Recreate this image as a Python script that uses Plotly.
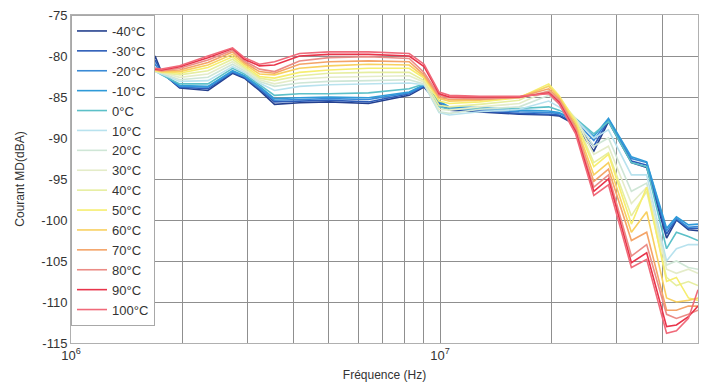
import plotly.graph_objects as go

# Frequency points (Hz)
freq_hz = [1.00e6, 1.64e6, 1.69e6, 1.76e6, 1.97e6, 2.35e6, 2.74e6, 2.95e6, 3.24e6, 3.56e6,
           4.16e6, 5.00e6, 6.40e6, 8.25e6, 9.05e6, 9.94e6, 1.06e7, 1.28e7, 1.64e7, 1.97e7,
           2.10e7, 2.33e7, 2.61e7, 2.86e7, 3.30e7, 3.63e7, 4.11e7, 4.37e7, 4.71e7, 5.00e7]

temps = ["-40°C", "-30°C", "-20°C", "-10°C", "0°C", "10°C", "20°C", "30°C",
         "40°C", "50°C", "60°C", "70°C", "80°C", "90°C", "100°C"]

t_m40 = [-82.3, -82.5, -80.0, -82.0, -83.9, -84.2, -82.1, -82.7, -84.2, -85.9,
         -85.7, -85.6, -85.8, -84.8, -83.8, -85.9, -86.6, -86.8, -87.1, -87.2,
         -87.3, -88.4, -91.6, -88.0, -93.0, -93.6, -102.2, -100.0, -101.2, -101.3]
t_m30 = [-82.2, -82.4, -80.5, -82.0, -83.8, -84.0, -82.0, -82.6, -84.0, -85.6,
         -85.5, -85.4, -85.6, -84.6, -83.7, -85.8, -86.5, -86.7, -87.0, -87.1,
         -87.2, -88.2, -91.0, -87.8, -92.8, -93.3, -101.7, -99.9, -101.0, -101.0]
t_m20 = [-82.1, -82.3, -81.0, -82.1, -83.7, -83.8, -81.9, -82.5, -83.9, -85.4,
         -85.3, -85.2, -85.3, -84.5, -83.6, -85.6, -86.3, -86.5, -86.8, -86.9,
         -87.0, -88.0, -90.3, -87.7, -92.5, -93.0, -101.3, -99.8, -100.9, -100.8]
t_m10 = [-82.0, -82.2, -81.5, -82.2, -83.6, -83.7, -81.8, -82.4, -83.7, -85.2,
         -85.1, -85.0, -85.1, -84.4, -83.5, -85.5, -86.2, -86.3, -86.6, -86.7,
         -86.9, -87.8, -89.8, -87.6, -92.3, -92.9, -101.0, -99.6, -100.6, -100.5]
t_0 = [-82.0, -82.1, -81.8, -82.3, -83.4, -83.4, -81.5, -82.2, -83.5, -84.8,
       -84.6, -84.6, -84.5, -84.0, -83.4, -86.2, -86.5, -86.4, -86.4, -86.2,
       -86.6, -87.6, -89.5, -88.0, -93.0, -93.5, -103.5, -101.5, -102.0, -102.5]
t_10 = [-82.0, -82.0, -81.9, -82.2, -83.1, -83.0, -81.3, -82.0, -83.3, -84.2,
        -83.7, -83.5, -83.4, -83.3, -83.5, -86.9, -87.2, -86.8, -86.5, -85.5,
        -86.2, -87.7, -90.0, -89.0, -94.5, -94.5, -105.0, -103.5, -103.0, -103.0]
t_20 = [-81.9, -82.0, -81.9, -82.1, -82.9, -82.6, -81.0, -81.8, -83.1, -83.7,
        -83.3, -83.1, -83.0, -82.9, -83.4, -86.8, -87.0, -86.5, -86.2, -84.8,
        -85.8, -87.8, -91.0, -90.0, -96.5, -95.5, -105.5, -105.0, -105.8, -106.0]
t_30 = [-81.9, -81.9, -81.9, -82.0, -82.6, -82.2, -80.7, -81.6, -82.9, -83.4,
        -82.8, -82.6, -82.5, -82.4, -83.2, -86.5, -86.6, -86.2, -85.8, -84.2,
        -85.4, -87.6, -92.0, -91.0, -98.0, -96.0, -106.0, -106.5, -106.0, -106.5]
t_40 = [-81.8, -81.9, -81.8, -82.0, -82.3, -81.8, -80.4, -81.4, -82.7, -83.0,
        -82.4, -82.1, -82.0, -82.0, -83.0, -86.0, -86.2, -85.9, -85.4, -83.6,
        -85.0, -87.8, -93.0, -91.8, -99.5, -96.5, -107.0, -108.0, -107.5, -108.0]
t_50 = [-81.8, -81.8, -81.8, -81.9, -82.1, -81.4, -80.1, -81.2, -82.5, -82.7,
        -82.0, -81.7, -81.5, -81.5, -82.7, -85.5, -85.8, -85.6, -85.1, -83.4,
        -84.8, -88.0, -93.5, -92.0, -100.5, -96.0, -107.5, -107.0, -109.5, -109.8]
t_60 = [-81.7, -81.8, -81.7, -81.9, -81.9, -81.1, -79.8, -81.0, -82.2, -82.3,
        -81.5, -81.2, -81.0, -81.1, -82.5, -85.2, -85.5, -85.4, -85.0, -83.7,
        -85.0, -88.3, -94.5, -93.0, -101.5, -99.0, -109.5, -110.0, -109.8, -109.5]
t_70 = [-81.7, -81.7, -81.7, -81.8, -81.7, -80.8, -79.5, -80.8, -81.9, -82.1,
        -81.0, -80.7, -80.6, -80.7, -82.3, -85.0, -85.3, -85.3, -85.0, -84.0,
        -85.2, -88.6, -95.3, -93.8, -102.5, -101.5, -111.0, -111.0, -110.5, -110.5]
t_80 = [-81.6, -81.7, -81.6, -81.8, -81.5, -80.5, -79.3, -80.6, -81.6, -81.9,
        -80.6, -80.2, -80.1, -80.3, -82.0, -84.8, -85.1, -85.2, -85.1, -84.3,
        -85.4, -88.9, -96.0, -94.5, -104.4, -103.0, -111.5, -112.0, -111.5, -111.0]
t_90 = [-81.6, -81.6, -81.6, -81.7, -81.3, -80.2, -79.1, -80.4, -81.2, -81.1,
        -80.0, -79.8, -79.8, -80.0, -81.3, -84.6, -85.0, -85.0, -85.0, -84.5,
        -85.6, -89.2, -96.5, -95.0, -105.2, -104.0, -113.0, -112.8, -111.8, -110.5]
t_100 = [-81.5, -81.5, -81.5, -81.6, -81.2, -80.0, -79.0, -80.2, -81.0, -80.7,
         -79.7, -79.5, -79.5, -79.7, -81.0, -84.4, -84.8, -84.9, -84.9, -84.6,
         -85.8, -89.5, -97.0, -95.7, -105.8, -104.8, -113.8, -113.5, -112.0, -108.5]

series = [t_m40, t_m30, t_m20, t_m10, t_0, t_10, t_20, t_30,
          t_40, t_50, t_60, t_70, t_80, t_90, t_100]

colors = ["#24408e", "#2c5cb8", "#3a8ad6", "#2f9ad8", "#5cc0c8", "#b8e2ee",
          "#cfe6d6", "#e4ecc8", "#e6eea0", "#f6ee70", "#f8d060", "#f4a468",
          "#eb8c86", "#e8344a", "#f06a7a"]

# Axis ticks
x_tickvals = [1e6, 1e7]
x_ticktext = ["10<sup>6</sup>", "10<sup>7</sup>"]
x_minor_vals = [2e6, 3e6, 4e6, 5e6, 6e6, 7e6, 8e6, 9e6, 2e7, 3e7, 4e7, 5e7]
y_tickvals = [-115, -110, -105, -100, -95, -90, -85, -80, -75]
y_ticktext = ["-115", "-110", "-105", "-100", "-95", "-90", "-85", "-80", "-75"]

fig = go.Figure()
for name, ys, col in zip(temps, series, colors):
    fig.add_trace(go.Scatter(x=freq_hz, y=ys, mode="lines", name=name,
                             line=dict(color=col, width=1.6)))

fig.update_layout(
    width=709, height=385,
    margin=dict(l=71, r=11, t=15, b=42),
    paper_bgcolor="white", plot_bgcolor="white",
    font=dict(family="Liberation Sans, Arial, sans-serif", color="#333333"),
    showlegend=True,
    legend=dict(x=0, y=1, xanchor="left", yanchor="top",
                bgcolor="white", bordercolor="#a8a8a8", borderwidth=1,
                font=dict(size=13, color="#333333"),
                itemwidth=30, tracegroupgap=0),
)

fig.update_xaxes(
    type="log", range=[6, 7.69897], automargin=False,
    tickmode="array", tickvals=x_tickvals, ticktext=x_ticktext,
    showgrid=True, gridcolor="#8f8f8f", gridwidth=1,
    minor=dict(tickmode="array", tickvals=x_minor_vals, showgrid=True,
               gridcolor="#8f8f8f", gridwidth=1, ticks=""),
    showline=True, linecolor="#b0b0b0", mirror=True,
    ticks="", tickfont=dict(size=13, color="#333333"),
    title=dict(text="Fréquence (Hz)", font=dict(size=12, color="#333333"), standoff=9),
    zeroline=False,
)
fig.update_yaxes(
    range=[-115, -75], automargin=False,
    tickvals=y_tickvals, ticktext=y_ticktext,
    showgrid=True, gridcolor="#8f8f8f", gridwidth=1,
    showline=True, linecolor="#b0b0b0", mirror=True,
    ticks="", tickfont=dict(size=13, color="#333333"),
    title=dict(text="Courant MD(dBA)", font=dict(size=12, color="#333333"), standoff=14),
    zeroline=False,
)

fig.write_html("out.html",
               config={"displayModeBar": False},
               post_script="document.body.style.margin='0px';document.body.style.overflow='hidden';")
